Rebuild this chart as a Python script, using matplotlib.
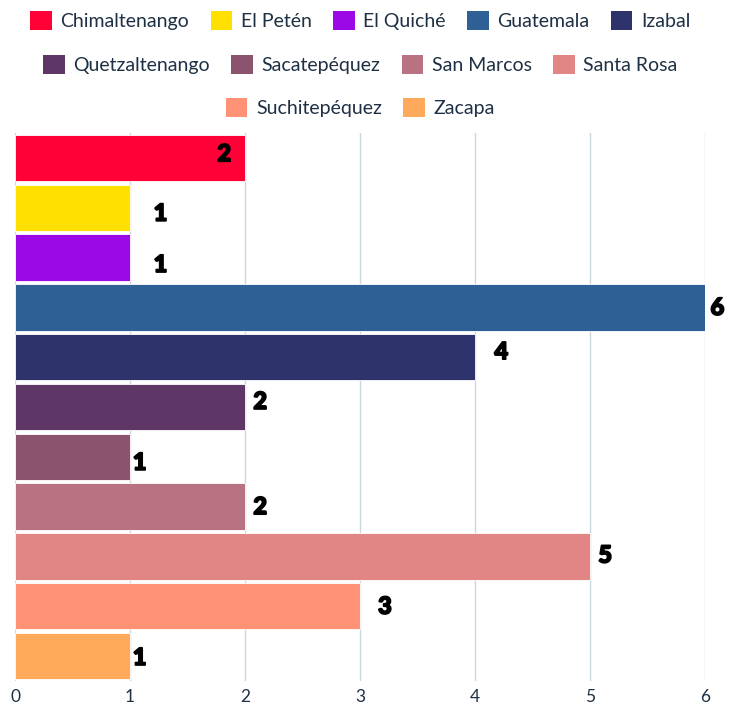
import matplotlib.pyplot as plt
import matplotlib.patheffects as pe
from matplotlib.patches import Patch

plt.rcParams['font.family'] = ['Lato', 'DejaVu Sans']

# datos
departamentos = ["Chimaltenango", "El Petén", "El Quiché", "Guatemala", "Izabal",
                 "Quetzaltenango", "Sacatepéquez", "San Marcos", "Santa Rosa",
                 "Suchitepéquez", "Zacapa"]
valores = [2, 1, 1, 6, 4, 2, 1, 2, 5, 3, 1]
colores = ["#FF0037", "#FFE000", "#9B0AE6", "#2E6096", "#2F336B", "#5F3766",
           "#8B536E", "#B87282", "#E28585", "#FF9274", "#FFAA5A"]
ticks = [0, 1, 2, 3, 4, 5, 6]

# decalage des etiquettes (points)
dx = [-10, 17, 17, 4, 14, 6, 2, 6, 6, 13, 2]
dy = [3, -4, -5, 0, 4, 4, -4, 0, 1, 0, -1]

fig = plt.figure(figsize=(7.4, 7.09), dpi=100)
ax = fig.add_axes([0.0203, 0.0395, 0.9324, 0.7729])

y = list(range(len(valores)))
ax.barh(y, valores, height=0.93, color=colores, edgecolor='white', linewidth=0.6, zorder=3)
ax.set_ylim(len(valores) - 0.5, -0.5)
ax.set_xlim(0, 6)
ax.set_yticks([])
ax.set_xticks(ticks)
ax.set_xticklabels([str(t) for t in ticks], fontsize=12.5, color="#1E3044")
ax.tick_params(axis='x', length=0, pad=6)
ax.grid(axis='x', color="#CCD6DD", linewidth=1, zorder=0)
for s in ax.spines.values():
    s.set_visible(False)

for i, v in enumerate(valores):
    ax.annotate(str(v), (v, i), xytext=(dx[i], dy[i]), textcoords='offset points',
                ha='left' if dx[i] > 0 else 'right', va='center',
                fontsize=17, fontweight='black', color='black', zorder=5,
                path_effects=[pe.withStroke(linewidth=1.3, foreground='black')])

# leyenda en tres filas centradas
filas = [(0, 5), (5, 9), (9, 11)]
ypos = [0.971, 0.909, 0.848]
for (a, b), yy in zip(filas, ypos):
    handles = [Patch(facecolor=colores[k], label=departamentos[k]) for k in range(a, b)]
    leg = fig.legend(handles=handles, loc='center', bbox_to_anchor=(0.487, yy),
                     ncol=b - a, frameon=False, fontsize=14, handlelength=1.1,
                     handleheight=1.1, handletextpad=0.45, columnspacing=1.1)
    for t in leg.get_texts():
        t.set_color("#1E3044")

plt.savefig('out.png')
